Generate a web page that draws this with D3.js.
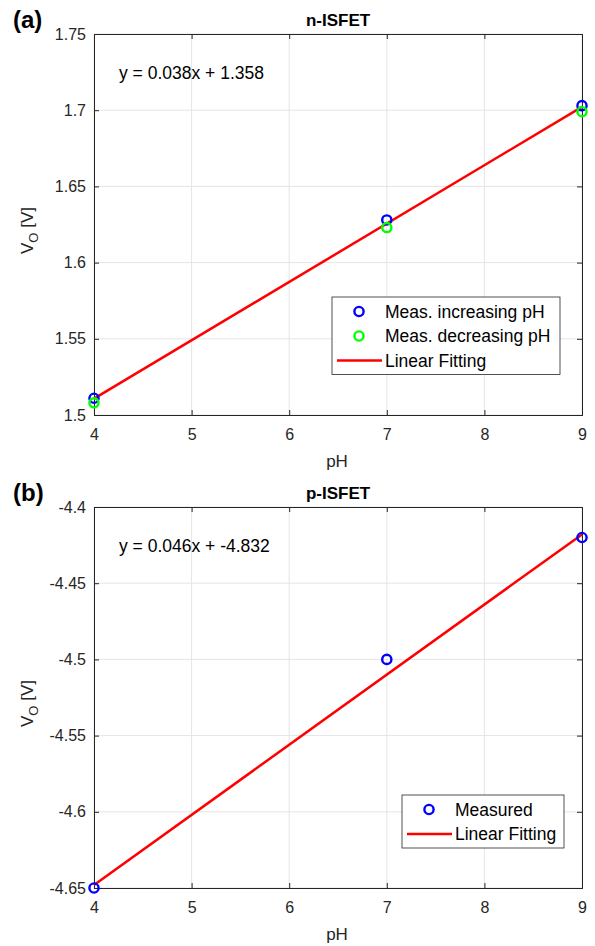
<!DOCTYPE html>
<html>
<head>
<meta charset="utf-8">
<script src="https://cdn.jsdelivr.net/npm/d3@7"></script>
<style>
  body { margin: 0; background: #fff; }
  svg text { font-family: Arial, "Liberation Sans", sans-serif; }
</style>
</head>
<body>
<svg id="chart" width="595" height="946"></svg>
<script>
// data
const pH = [4, 7, 9];
const nIncreasing = [1.511, 1.628, 1.703];
const nDecreasing = [1.508, 1.623, 1.699];
const nFit = [0.0383, 1.3575];   // slope, intercept
const pMeasured = [-4.65, -4.50, -4.42];
const pFit = [0.046, -4.832];

const xTicks = [4, 5, 6, 7, 8, 9];
const nYTicks = [1.5, 1.55, 1.6, 1.65, 1.7, 1.75];
const pYTicks = [-4.65, -4.6, -4.55, -4.5, -4.45, -4.4];

const svg = d3.select('#chart');
const left = 94, right = 582;
const ink = '#262626';

function panel(opt) {
  const g = svg.append('g');
  const x = d3.scaleLinear().domain([4, 9]).range([left, right]);
  const y = d3.scaleLinear().domain(opt.yDomain).range([opt.bottom, opt.top]);

  // grid
  g.append('g').selectAll('line').data(xTicks).join('line')
    .attr('x1', d => x(d)).attr('x2', d => x(d))
    .attr('y1', opt.top).attr('y2', opt.bottom)
    .attr('stroke', '#e5e5e5').attr('stroke-width', 1);
  g.append('g').selectAll('line').data(opt.yTicks).join('line')
    .attr('y1', d => y(d)).attr('y2', d => y(d))
    .attr('x1', left).attr('x2', right)
    .attr('stroke', '#e5e5e5').attr('stroke-width', 1);

  // axes (ticks inside, box on)
  const fmt = d => String(d);
  const xAxis = g.append('g').attr('transform', `translate(0,${opt.bottom})`)
    .call(d3.axisBottom(x).tickValues(xTicks).tickSize(-5).tickPadding(14).tickFormat(fmt));
  g.append('g').attr('transform', `translate(${left},0)`)
    .call(d3.axisLeft(y).tickValues(opt.yTicks).tickSize(-5).tickPadding(8).tickFormat(fmt));
  g.append('g').attr('transform', `translate(0,${opt.top})`)
    .call(d3.axisTop(x).tickValues(xTicks).tickSize(-5).tickFormat(''));
  g.append('g').attr('transform', `translate(${right},0)`)
    .call(d3.axisRight(y).tickValues(opt.yTicks).tickSize(-5).tickFormat(''));
  g.selectAll('.domain').attr('stroke', ink).attr('stroke-width', 1);
  g.selectAll('.tick line').attr('stroke', ink);
  g.selectAll('.tick text').attr('fill', ink).style('font-size', '16px');
  xAxis.selectAll('.tick text').attr('dy', '0.71em');

  // fit line
  const line = d3.line().x(d => x(d)).y(d => y(opt.fit[0] * d + opt.fit[1]));
  g.append('path').datum([4, 9]).attr('d', line)
    .attr('fill', 'none').attr('stroke', '#ff0000').attr('stroke-width', 2.5);

  // measured points
  opt.series.forEach(s => {
    g.append('g').selectAll('circle').data(s.values).join('circle')
      .attr('cx', (d, i) => x(pH[i])).attr('cy', d => y(d)).attr('r', 4.6)
      .attr('fill', 'none').attr('stroke', s.color).attr('stroke-width', 2.4);
  });

  // titles and labels
  g.append('text').attr('x', 338).attr('y', opt.top - 8)
    .attr('text-anchor', 'middle').style('font-size', '17px').style('font-weight', 'bold')
    .attr('fill', '#000').text(opt.title);
  g.append('text').attr('x', 13).attr('y', opt.top - 6)
    .style('font-size', '24px').style('font-weight', 'bold').attr('fill', '#000').text(opt.letter);
  g.append('text').attr('x', 337).attr('y', opt.bottom + 52)
    .attr('text-anchor', 'middle').style('font-size', '17px').attr('fill', ink).text('pH');
  const yl = g.append('text')
    .attr('transform', `translate(33,${(opt.top + opt.bottom) / 2 + 6}) rotate(-90)`)
    .attr('text-anchor', 'middle').style('font-size', '17px').attr('fill', ink);
  yl.append('tspan').text('V');
  yl.append('tspan').attr('dy', 5).style('font-size', '13px').text('O');
  yl.append('tspan').attr('dy', -5).text(' [V]');
  g.append('text').attr('x', 119).attr('y', opt.top + 45)
    .style('font-size', '17.5px').attr('fill', '#000').text(opt.equation);

  // legend
  const lg = g.append('g');
  const rows = opt.series.map(s => ({ label: s.label, color: s.color, type: 'o' }))
    .concat([{ label: 'Linear Fitting', color: '#ff0000', type: 'line' }]);
  lg.append('rect').attr('x', opt.legend[0]).attr('y', opt.legend[1])
    .attr('width', opt.legend[2]).attr('height', 4 + rows.length * 24.5)
    .attr('fill', '#fff').attr('stroke', '#262626').attr('stroke-width', 0.8);
  rows.forEach((r, i) => {
    const cy = opt.legend[1] + 14.5 + i * 24.5;
    const lx = opt.legend[0];
    if (r.type === 'o') {
      lg.append('circle').attr('cx', lx + 27).attr('cy', cy).attr('r', 4.6)
        .attr('fill', 'none').attr('stroke', r.color).attr('stroke-width', 2.4);
    } else {
      lg.append('line').attr('x1', lx + 5).attr('x2', lx + 50).attr('y1', cy).attr('y2', cy)
        .attr('stroke', r.color).attr('stroke-width', 2.5);
    }
    lg.append('text').attr('x', lx + 53).attr('y', cy).attr('dy', '0.35em')
      .style('font-size', '17.5px').attr('fill', '#000').text(r.label);
  });
}

panel({
  top: 34, bottom: 415, yDomain: [1.5, 1.75], yTicks: nYTicks,
  title: 'n-ISFET', letter: '(a)', equation: 'y = 0.038x + 1.358', fit: nFit,
  series: [
    { label: 'Meas. increasing pH', color: '#0000ff', values: nIncreasing },
    { label: 'Meas. decreasing pH', color: '#00ff00', values: nDecreasing }
  ],
  legend: [332, 297, 228]
});

panel({
  top: 507, bottom: 888, yDomain: [-4.65, -4.4], yTicks: pYTicks,
  title: 'p-ISFET', letter: '(b)', equation: 'y = 0.046x + -4.832', fit: pFit,
  series: [
    { label: 'Measured', color: '#0000ff', values: pMeasured }
  ],
  legend: [402, 795, 162]
});
</script>
</body>
</html>
